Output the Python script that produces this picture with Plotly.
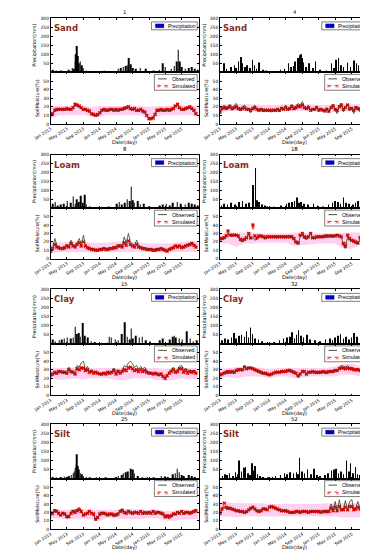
import pandas as pd
import plotly.graph_objects as go

FONT = "DejaVu Sans"
LFONT = "Liberation Sans"

# ---------------- data ----------------
# precipitation events: day offset from 2013-01-01 and mm
p1_rain_day = [17, 40, 76, 100, 135, 159, 171, 182, 187, 194, 201, 209, 218, 230, 242, 265, 300, 325, 396, 440,
               502, 521, 538, 555, 569, 578, 593, 609, 633, 664, 704, 763, 806, 834, 851, 894, 917, 934, 948, 960,
               972, 1000, 1024, 1048, 1071, 1090]
p1_rain_mm = [15, 10, 10, 8, 15, 25, 20, 60, 100, 145, 90, 50, 60, 40, 25, 10, 6, 8, 10, 5,
              20, 25, 30, 35, 40, 80, 45, 25, 20, 25, 20, 10, 15, 50, 30, 20, 35, 60, 125, 60,
              30, 20, 25, 30, 20, 15]
p1_obs = [10, 13, 15, 16, 16, 17, 17, 16, 17, 17, 17, 18, 22, 21, 20, 18, 16, 16, 15, 14, 11, 10, 9, 10,
          12, 15, 16, 15, 15, 16, 16, 15, 16, 15, 16, 16, 17, 18, 19, 17, 16, 17, 15, 15, 16, 14, 13, 9,
          7, 7, 8, 12, 15, 15, 16, 15, 15, 16, 15, 16, 17, 20, 22, 18, 16, 16, 17, 18, 19, 17, 15, 11]
p1_sim = [11, 12, 16, 17, 17, 17, 17, 17, 18, 17, 17, 19, 23, 22, 21, 19, 17, 17, 16, 15, 12, 11, 10, 11,
          13, 16, 17, 16, 16, 17, 17, 16, 17, 16, 17, 17, 18, 19, 20, 18, 17, 18, 16, 16, 17, 15, 14, 10,
          6, 6, 7, 11, 16, 16, 17, 16, 16, 17, 16, 17, 18, 21, 23, 19, 17, 17, 18, 19, 20, 18, 16, 12]
p1_lo = [6, 10, 10, 10, 10, 9, 8, 10, 10, 10, 10, 10, 5, 9, 10, 10, 10, 10, 9]
p1_hi = [21, 21, 21, 22, 21, 20, 21, 21, 21, 21, 21, 21, 20, 21, 21, 22, 21, 21, 21]

p4_rain_day = [28, 47, 82, 106, 118, 136, 153, 165, 183, 200, 223, 240, 254, 270, 287, 317, 341, 400, 447, 475,
               505, 524, 541, 552, 576, 588, 597, 606, 616, 635, 658, 686, 705, 740, 787, 823, 841, 858, 874, 893,
               912, 940, 964, 987, 1006, 1022, 1046, 1069, 1086]
p4_rain_mm = [50, 20, 30, 40, 25, 60, 85, 50, 30, 40, 25, 70, 40, 20, 55, 15, 10, 5, 15, 20,
              50, 30, 35, 60, 80, 95, 100, 80, 55, 30, 50, 25, 60, 15, 10, 50, 25, 70, 80, 40,
              30, 55, 30, 65, 50, 40, 45, 30, 20]
p4_obs = [12, 19, 22, 17, 20, 23, 16, 21, 24, 18, 15, 20, 22, 16, 18, 13, 19, 22, 16, 15, 18, 14, 16, 15,
          15, 14, 16, 15, 17, 14, 20, 17, 22, 16, 19, 23, 17, 21, 24, 22, 26, 19, 17, 22, 15, 18, 16, 21,
          15, 18, 16, 14, 19, 13, 20, 23, 17, 12, 21, 24, 14, 20, 23, 15, 19, 12, 21, 17, 14, 19, 22, 18]
p4_sim = [14, 18, 19, 18, 19, 20, 18, 19, 20, 18, 17, 18, 19, 17, 17, 16, 18, 19, 17, 16, 17, 16, 16, 16,
          16, 16, 16, 16, 17, 16, 18, 17, 19, 17, 18, 20, 18, 19, 21, 20, 22, 19, 18, 19, 16, 17, 17, 19,
          16, 17, 16, 15, 17, 15, 19, 21, 17, 16, 20, 22, 17, 19, 22, 18, 18, 16, 19, 18, 17, 18, 20, 18]
p4_lo = [13, 15, 15, 15, 15, 15, 14, 15, 15, 15, 15, 15, 15, 15, 14, 15, 15, 15, 15]
p4_hi = [23, 23, 23, 23, 23, 22, 22, 22, 23, 23, 23, 23, 22, 22, 23, 23, 23, 23, 23]

p8_rain_day = [17, 33, 52, 76, 95, 123, 147, 166, 182, 194, 206, 223, 237, 254, 265, 289, 360, 431, 491, 510,
               526, 550, 569, 585, 597, 609, 621, 645, 664, 692, 728, 811, 834, 858, 882, 905, 941, 965, 1000, 1024,
               1048, 1071, 1090]
p8_rain_mm = [25, 35, 15, 20, 25, 40, 30, 65, 25, 50, 35, 70, 30, 75, 20, 10, 5, 10, 25, 35,
              20, 30, 50, 40, 120, 45, 30, 40, 20, 25, 10, 15, 20, 25, 15, 30, 35, 25, 20, 30,
              25, 20, 15]
p8_obs = [10, 13, 24, 16, 14, 13, 13, 14, 17, 15, 22, 16, 15, 20, 24, 16, 28, 17, 14, 13, 12, 12, 11, 11,
          12, 12, 13, 12, 12, 13, 13, 14, 14, 16, 17, 15, 26, 18, 30, 20, 17, 16, 22, 15, 14, 13, 13, 12,
          12, 12, 11, 11, 12, 12, 13, 12, 11, 10, 12, 13, 14, 16, 15, 16, 14, 15, 16, 17, 18, 19, 17, 15]
p8_sim = [9, 12, 17, 14, 13, 12, 12, 13, 15, 14, 18, 15, 14, 17, 19, 15, 20, 15, 13, 12, 11, 11, 10, 10,
          11, 11, 12, 11, 11, 12, 12, 13, 13, 15, 15, 14, 19, 16, 21, 17, 15, 14, 17, 14, 13, 12, 12, 11,
          11, 11, 10, 10, 11, 11, 12, 11, 10, 9, 11, 12, 13, 15, 14, 15, 13, 14, 15, 16, 17, 18, 16, 14]
p8_lo = [6, 8, 8, 8, 8, 8, 8, 8, 8, 8, 8, 8, 8, 8, 7, 8, 8, 8, 8]
p8_hi = [20, 19, 20, 20, 20, 19, 19, 19, 20, 20, 20, 19, 18, 18, 18, 19, 20, 21, 21]

p18_rain_day = [10, 30, 55, 80, 110, 140, 165, 190, 215, 245, 262, 275, 290, 310, 330, 345, 400, 450, 490, 510,
                530, 550, 570, 585, 600, 620, 650, 690, 720, 760, 800, 830, 850, 870, 890, 910, 930, 950, 980, 1000,
                1020, 1040, 1060, 1080]
p18_rain_mm = [15, 25, 20, 30, 20, 35, 40, 25, 30, 130, 225, 45, 35, 20, 15, 10, 8, 15, 25, 30,
               35, 40, 60, 30, 35, 25, 20, 25, 15, 10, 20, 30, 40, 35, 25, 60, 30, 25, 20, 30,
               40, 35, 45, 25]
p18_obs = [22, 23, 24, 26, 31, 27, 27, 28, 28, 26, 21, 20, 22, 24, 29, 23, 25, 22, 23, 26, 27, 25, 24, 25,
           25, 25, 26, 25, 25, 26, 26, 25, 25, 26, 26, 25, 22, 18, 17, 26, 28, 24, 23, 25, 31, 24, 24, 25,
           25, 26, 25, 26, 26, 27, 27, 26, 27, 28, 27, 26, 16, 12, 27, 22, 21, 19, 18, 17, 24, 29, 27, 26]
p18_sim = [24, 24, 25, 27, 33, 28, 28, 28, 28, 27, 23, 22, 23, 25, 30, 25, 40, 27, 25, 27, 27, 26, 25, 26,
           26, 26, 26, 26, 26, 26, 26, 26, 26, 26, 26, 26, 24, 20, 19, 28, 30, 26, 25, 26, 30, 25, 25, 26,
           26, 26, 26, 27, 27, 27, 27, 27, 27, 28, 27, 26, 18, 15, 28, 24, 22, 21, 20, 19, 25, 30, 27, 26]
p18_lo = [18, 18, 14, 18, 18, 19, 19, 19, 19, 15, 16, 17, 18, 18, 18, 12, 12, 16, 16]
p18_hi = [30, 31, 31, 31, 31, 30, 30, 30, 30, 31, 31, 30, 30, 30, 30, 31, 31, 31, 31]

p15_rain_day = [17, 33, 64, 81, 100, 123, 147, 166, 182, 194, 206, 218, 237, 254, 277, 301, 325, 419, 436, 450,
                479, 502, 526, 550, 569, 585, 597, 609, 633, 656, 680, 704, 739, 811, 834, 882, 905, 917, 929, 953,
                976, 1012, 1036, 1059, 1083]
p15_rain_mm = [25, 15, 20, 25, 30, 35, 30, 35, 95, 55, 60, 40, 115, 45, 35, 15, 10, 5, 40, 35,
               25, 20, 55, 120, 40, 25, 85, 30, 45, 35, 40, 20, 15, 20, 30, 25, 40, 45, 35, 30,
               25, 70, 30, 15, 20]
p15_obs = [22, 24, 26, 25, 27, 28, 26, 27, 25, 33, 28, 26, 24, 35, 33, 38, 40, 30, 34, 28, 30, 27, 28, 26,
           25, 24, 26, 25, 27, 26, 28, 32, 25, 30, 27, 29, 35, 33, 38, 40, 37, 33, 35, 30, 34, 31, 33, 28,
           27, 26, 25, 26, 25, 24, 26, 22, 20, 24, 27, 30, 33, 28, 30, 34, 35, 29, 32, 27, 30, 28, 29, 27]
p15_sim = [24, 25, 27, 26, 28, 28, 27, 27, 26, 30, 28, 27, 25, 31, 30, 32, 32, 29, 30, 27, 28, 26, 27, 26,
           25, 25, 26, 25, 27, 26, 27, 29, 25, 28, 26, 28, 30, 29, 32, 33, 31, 29, 30, 28, 30, 28, 29, 27,
           26, 26, 25, 26, 25, 24, 25, 22, 20, 23, 26, 28, 30, 27, 28, 31, 31, 27, 29, 26, 28, 27, 28, 26]
p15_lo = [20, 18, 19, 20, 19, 20, 20, 20, 18, 18, 20, 20, 20, 18, 17, 18, 20, 19, 20]
p15_hi = [32, 32, 32, 33, 33, 32, 32, 32, 32, 33, 32, 32, 32, 32, 31, 32, 32, 32, 32]

p32_rain_day = [15, 35, 60, 85, 105, 120, 140, 160, 180, 195, 210, 225, 240, 260, 285, 310, 350, 400, 440, 470,
                495, 515, 530, 550, 565, 580, 600, 615, 640, 665, 700, 740, 780, 810, 830, 850, 870, 890, 910, 930,
                950, 970, 990, 1010, 1040, 1070]
p32_rain_mm = [20, 30, 25, 35, 60, 30, 45, 50, 40, 70, 35, 90, 55, 30, 25, 15, 10, 10, 20, 30,
               35, 40, 65, 30, 50, 75, 45, 35, 50, 25, 20, 15, 25, 30, 20, 35, 45, 55, 30, 40,
               25, 35, 60, 40, 30, 25]
p32_obs = [22, 24, 27, 26, 27, 28, 27, 26, 28, 30, 31, 29, 35, 31, 33, 32, 32, 30, 28, 27, 26, 25, 25, 24,
           23, 24, 26, 27, 27, 28, 27, 28, 28, 29, 30, 28, 26, 25, 21, 24, 28, 27, 24, 26, 27, 28, 27, 26,
           26, 27, 28, 27, 26, 27, 28, 27, 30, 29, 33, 35, 34, 33, 35, 32, 33, 31, 30, 31, 29, 30, 28, 23]
p32_sim = [24, 25, 26, 27, 28, 27, 28, 27, 29, 30, 30, 30, 33, 31, 32, 32, 31, 30, 29, 28, 27, 26, 26, 25,
           24, 25, 26, 27, 27, 27, 28, 28, 28, 29, 29, 28, 27, 26, 23, 25, 28, 28, 25, 27, 27, 28, 27, 27,
           27, 27, 28, 27, 27, 28, 28, 28, 29, 29, 31, 32, 32, 31, 32, 31, 31, 30, 30, 30, 29, 29, 28, 25]
p32_lo = [20, 22, 20, 22, 22, 22, 20, 22, 22, 20, 20, 22, 22, 22, 22, 24, 24, 22, 20]
p32_hi = [31, 32, 33, 34, 33, 32, 31, 32, 32, 32, 32, 32, 32, 32, 34, 37, 37, 34, 32]

p25_rain_day = [17, 40, 76, 100, 119, 135, 152, 166, 175, 182, 190, 194, 201, 209, 218, 230, 242, 265, 289, 337,
                408, 479, 502, 526, 538, 555, 574, 593, 609, 621, 645, 680, 716, 763, 822, 846, 870, 905, 924, 941,
                953, 972, 988, 1024, 1048, 1071]
p25_rain_mm = [10, 8, 10, 12, 10, 15, 20, 30, 40, 60, 80, 135, 70, 50, 30, 25, 15, 10, 8, 5,
               5, 10, 15, 20, 30, 35, 40, 55, 50, 30, 15, 10, 8, 5, 15, 12, 10, 25, 30, 55,
               35, 20, 15, 20, 15, 10]
p25_obs = [17, 20, 24, 22, 18, 16, 20, 17, 13, 14, 20, 23, 21, 24, 26, 22, 16, 18, 20, 22, 19, 17, 10, 13,
           18, 20, 19, 17, 16, 19, 17, 15, 17, 18, 22, 25, 21, 19, 23, 20, 18, 21, 20, 19, 22, 18, 20, 19,
           21, 19, 22, 18, 20, 21, 19, 17, 13, 14, 12, 15, 18, 17, 21, 19, 22, 18, 20, 21, 19, 20, 22, 24]
p25_sim = [18, 19, 22, 21, 19, 17, 19, 18, 15, 15, 19, 21, 20, 22, 23, 21, 17, 18, 19, 21, 19, 18, 12, 14,
           18, 19, 19, 18, 17, 18, 18, 17, 17, 18, 21, 22, 20, 19, 21, 20, 19, 20, 20, 19, 21, 19, 20, 19,
           20, 19, 21, 19, 20, 20, 19, 18, 15, 16, 15, 16, 18, 18, 20, 19, 21, 19, 20, 20, 19, 20, 21, 22]
p25_lo = [13, 13, 12, 12, 12, 12, 10, 13, 13, 12, 12, 12, 13, 13, 10, 10, 12, 12, 12]
p25_hi = [23, 23, 23, 24, 24, 23, 23, 23, 23, 24, 24, 23, 23, 23, 22, 22, 23, 23, 24]

p52_rain_day = [19, 35, 52, 71, 94, 113, 129, 141, 160, 176, 188, 207, 223, 235, 247, 259, 277, 294, 317, 353,
                388, 411, 447, 475, 494, 517, 541, 564, 576, 588, 606, 623, 646, 670, 693, 717, 740, 776, 799, 823,
                841, 858, 874, 893, 912, 935, 952, 964, 982, 999, 1015, 1034, 1058, 1081, 1095]
p52_rain_mm = [15, 25, 20, 30, 15, 35, 25, 100, 40, 60, 65, 30, 20, 85, 45, 70, 25, 15, 10, 8,
               10, 15, 20, 30, 25, 35, 30, 35, 25, 115, 40, 30, 50, 25, 55, 20, 15, 20, 30, 45,
               50, 55, 30, 40, 25, 100, 40, 85, 30, 65, 25, 20, 30, 40, 25]
p52_obs = [18, 22, 27, 24, 25, 26, 24, 23, 22, 21, 20, 21, 19, 20, 22, 25, 27, 23, 22, 21, 23, 25, 24, 23,
           26, 27, 26, 25, 23, 22, 21, 22, 22, 21, 20, 19, 20, 21, 21, 20, 22, 21, 21, 20, 21, 22, 22, 21,
           21, 20, 21, 22, 20, 22, 30, 22, 33, 21, 35, 22, 24, 34, 22, 33, 35, 23, 26, 33, 24, 36, 28, 27]
p52_sim = [19, 24, 31, 26, 25, 25, 24, 23, 22, 22, 21, 21, 20, 21, 23, 25, 26, 24, 22, 21, 22, 24, 24, 23,
           26, 27, 26, 25, 24, 23, 22, 22, 22, 21, 20, 20, 20, 21, 21, 20, 21, 21, 21, 20, 21, 21, 21, 21,
           21, 20, 21, 21, 21, 21, 25, 22, 26, 22, 27, 23, 23, 26, 23, 27, 27, 23, 24, 26, 24, 28, 27, 26]
p52_lo = [15, 15, 14, 15, 15, 15, 15, 15, 15, 15, 15, 15, 15, 15, 15, 14, 14, 14, 15]
p52_hi = [31, 32, 31, 31, 31, 31, 30, 30, 30, 30, 30, 30, 30, 31, 31, 31, 31, 31, 31]

panel_titles = ["1", "4", "8", "18", "15", "32", "25", "52"]
soil_types = ["Sand", "Sand", "Loam", "Loam", "Clay", "Clay", "Silt", "Silt"]
precip_ticks = [50, 100, 150, 200, 250, 300]
soil_ticks = [0, 10, 20, 30, 40, 50]

# ---------------- time bases ----------------
START = pd.Timestamp("2013-01-01")
semi_dates = pd.date_range("2013-01-01", periods=72, freq="SMS")
band_dates = pd.date_range("2013-01-01", periods=19, freq="2MS")
tick_dates = pd.date_range("2013-01-01", "2015-09-01", freq="4MS")
tick_text = [d.strftime("%b %Y") for d in tick_dates]
X_RANGE = ["2013-01-01", "2016-01-08"]

panels = [
    (p1_rain_day, p1_rain_mm, p1_obs, p1_sim, p1_lo, p1_hi),
    (p4_rain_day, p4_rain_mm, p4_obs, p4_sim, p4_lo, p4_hi),
    (p8_rain_day, p8_rain_mm, p8_obs, p8_sim, p8_lo, p8_hi),
    (p18_rain_day, p18_rain_mm, p18_obs, p18_sim, p18_lo, p18_hi),
    (p15_rain_day, p15_rain_mm, p15_obs, p15_sim, p15_lo, p15_hi),
    (p32_rain_day, p32_rain_mm, p32_obs, p32_sim, p32_lo, p32_hi),
    (p25_rain_day, p25_rain_mm, p25_obs, p25_sim, p25_lo, p25_hi),
    (p52_rain_day, p52_rain_mm, p52_obs, p52_sim, p52_lo, p52_hi),
]

# ---------------- layout geometry (pixels) ----------------
W, H = 368, 550
col_x = [(26, 182), (204, 361)]
row_top = [8, 146, 282, 418]
row_mid = [63, 200, 337, 473]
row_bot = [115, 251, 389, 524]


def fx(p):
    return p / W


def fy(p):
    return 1 - p / H


fig = go.Figure()
layout = dict(
    width=W, height=H, margin=dict(l=0, r=0, t=0, b=0),
    paper_bgcolor="white", plot_bgcolor="white", showlegend=False,
    font=dict(family=FONT, color="black", size=5),
)
shapes, annos = [], []

axis_common = dict(showline=True, linecolor="black", linewidth=0.6, mirror="allticks",
                   ticks="inside", ticklen=2, tickwidth=0.5, tickcolor="black",
                   showgrid=False, zeroline=False,
                   tickfont=dict(size=4.5, family=FONT, color="black"))

DAY_MS = 86400000

for k, (rd, rm, obs, sim, lo, hi) in enumerate(panels):
    r, c = divmod(k, 2)
    a, b = 2 * k + 1, 2 * k + 2
    xa = "x" if a == 1 else f"x{a}"
    ya = "y" if a == 1 else f"y{a}"
    xb, yb = f"x{b}", f"y{b}"
    left, right = col_x[c]
    top, mid, bot = row_top[r], row_mid[r], row_bot[r]

    rain_dates = [START + pd.Timedelta(days=d) for d in rd]
    fig.add_trace(go.Bar(x=rain_dates, y=rm, width=4.5 * DAY_MS, marker=dict(color="black", line=dict(width=0)),
                         xaxis=xa, yaxis=ya, hoverinfo="skip"))

    fig.add_trace(go.Scatter(x=band_dates, y=lo, mode="lines", line=dict(width=0, color="rgba(0,0,0,0)"),
                             xaxis=xb, yaxis=yb, hoverinfo="skip"))
    fig.add_trace(go.Scatter(x=band_dates, y=hi, mode="lines", line=dict(width=0, color="rgba(0,0,0,0)"),
                             fill="tonexty", fillcolor="rgba(255,60,200,0.24)",
                             xaxis=xb, yaxis=yb, hoverinfo="skip"))
    fig.add_trace(go.Scatter(x=semi_dates, y=sim, mode="lines+markers",
                             line=dict(color="red", width=0.8, dash="dash"),
                             marker=dict(symbol="x", size=3.5, color="#e00000"),
                             xaxis=xb, yaxis=yb, name="Simulated"))
    fig.add_trace(go.Scatter(x=semi_dates, y=obs, mode="lines",
                             line=dict(color="#34421c", width=0.8),
                             xaxis=xb, yaxis=yb, name="Observed"))

    xdom = [fx(left), fx(right)]
    layout["xaxis" if a == 1 else f"xaxis{a}"] = dict(
        axis_common, domain=xdom, anchor=ya, type="date", range=X_RANGE,
        tickvals=list(tick_dates), showticklabels=False)
    layout[f"yaxis{'' if a == 1 else a}"] = dict(
        axis_common, domain=[fy(mid), fy(top)], anchor=xa, range=[0, 300], tickvals=precip_ticks,
        title=dict(text="Precipitation(mm)", font=dict(size=4.8, family=FONT), standoff=3))
    layout[f"xaxis{b}"] = dict(
        axis_common, domain=xdom, anchor=yb, type="date", range=X_RANGE,
        tickvals=list(tick_dates), ticktext=tick_text, tickangle=-32,
        tickfont=dict(size=4.3, family=FONT, color="black"))
    layout[f"yaxis{b}"] = dict(
        axis_common, domain=[fy(bot), fy(mid)], anchor=xb, range=[0, 60], tickvals=soil_ticks,
        title=dict(text="SoilMoisture(%)", font=dict(size=4.8, family=FONT), standoff=3))

    # x title, panel title and soil label
    annos.append(dict(x=fx((left + right) / 2), y=fy(bot + 18.5), xref="paper", yref="paper",
                      text="Date(day)", showarrow=False, xanchor="center", yanchor="middle",
                      font=dict(size=5, family=FONT, color="black")))
    annos.append(dict(x=fx((left + right) / 2), y=fy(top - 0.5), xref="paper", yref="paper",
                      text=panel_titles[k], showarrow=False, xanchor="center", yanchor="bottom",
                      font=dict(size=5.3, family=FONT, color="black")))
    annos.append(dict(x=fx(left + 1.5), y=fy(top + 3), xref="paper", yref="paper",
                      text="<b>" + soil_types[k] + "</b>", showarrow=False, xanchor="left", yanchor="top",
                      font=dict(size=8.5, family=FONT, color="#8a2a1c")))

    # precipitation legend
    shapes.append(dict(type="rect", xref="paper", yref="paper", x0=fx(right - 50), x1=fx(right - 2),
                       y0=fy(top + 12), y1=fy(top + 4), line=dict(color="black", width=0.5),
                       fillcolor="white"))
    shapes.append(dict(type="rect", xref="paper", yref="paper", x0=fx(right - 46), x1=fx(right - 37),
                       y0=fy(top + 10), y1=fy(top + 6), line=dict(color="#000066", width=0.3),
                       fillcolor="#0000cc"))
    annos.append(dict(x=fx(right - 35), y=fy(top + 8), xref="paper", yref="paper", text="Precipitation",
                      showarrow=False, xanchor="left", yanchor="middle",
                      font=dict(size=5, family=LFONT, color="black")))

    # soil moisture legend
    shapes.append(dict(type="rect", xref="paper", yref="paper", x0=fx(right - 47), x1=fx(right - 2),
                       y0=fy(mid + 18), y1=fy(mid + 2), line=dict(color="black", width=0.5),
                       fillcolor="white"))
    shapes.append(dict(type="line", xref="paper", yref="paper", x0=fx(right - 43), x1=fx(right - 34),
                       y0=fy(mid + 6.5), y1=fy(mid + 6.5), line=dict(color="#34421c", width=0.9)))
    shapes.append(dict(type="line", xref="paper", yref="paper", x0=fx(right - 43), x1=fx(right - 34),
                       y0=fy(mid + 13.5), y1=fy(mid + 13.5), line=dict(color="red", width=0.8, dash="dot")))
    for xm in (right - 43, right - 34):
        annos.append(dict(x=fx(xm), y=fy(mid + 13.5), xref="paper", yref="paper", text="×",
                          showarrow=False, xanchor="center", yanchor="middle",
                          font=dict(size=6, family=FONT, color="red")))
    annos.append(dict(x=fx(right - 31), y=fy(mid + 6.5), xref="paper", yref="paper", text="Observed",
                      showarrow=False, xanchor="left", yanchor="middle",
                      font=dict(size=5.2, family=LFONT, color="black")))
    annos.append(dict(x=fx(right - 31), y=fy(mid + 13.5), xref="paper", yref="paper", text="Simulated",
                      showarrow=False, xanchor="left", yanchor="middle",
                      font=dict(size=5.2, family=LFONT, color="black")))

layout["shapes"] = shapes
layout["annotations"] = annos
fig.update_layout(**layout)
fig.write_html("out.html")
